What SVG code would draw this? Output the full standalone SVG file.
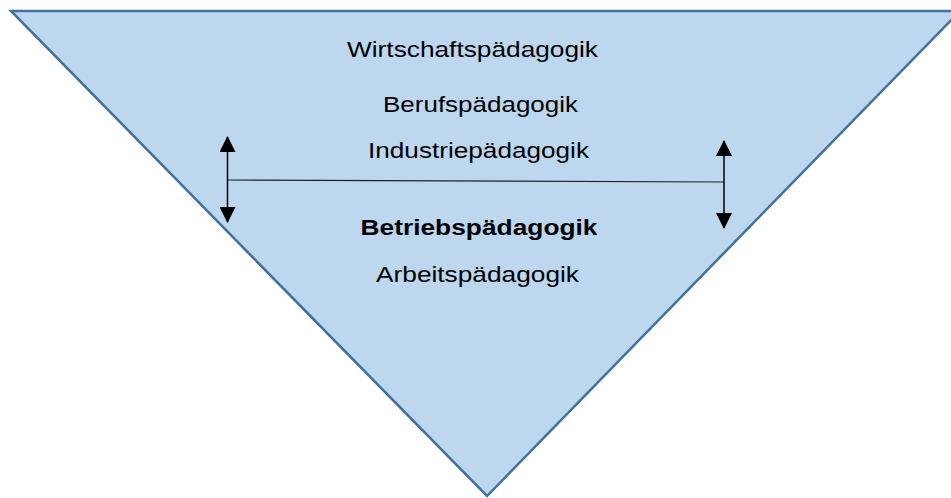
<svg xmlns="http://www.w3.org/2000/svg" width="951" height="498" viewBox="0 0 951 498">
  <style>
    .label { font-family: "Liberation Sans", Arial, sans-serif; font-size: 22px; fill: #000; text-anchor: middle; }
    .bold { font-weight: bold; }
    .range { stroke: #000; stroke-width: 1.5; fill: none; }
    .link { stroke: #222; stroke-width: 1.2; fill: none; }
  </style>
  <defs>
    <marker id="head" viewBox="0 0 10 10" refX="9" refY="5" markerWidth="10" markerHeight="10" markerUnits="userSpaceOnUse" orient="auto-start-reverse">
      <path d="M0,0 L10,5 L0,10 Z" fill="#000"/>
    </marker>
    <marker id="headL" viewBox="0 0 16 16" refX="15" refY="8" markerWidth="16" markerHeight="16" markerUnits="userSpaceOnUse" orient="auto-start-reverse">
      <path d="M0,0 L16,8 L0,16 Z" fill="#000"/>
    </marker>
  </defs>

  <!-- inverted triangle -->
  <g id="triangle">
    <polygon points="11,11 960,11 487,496" fill="#BDD7EE" stroke="#41719C" stroke-width="2.5" stroke-linejoin="miter"/>
  </g>

  <!-- labels -->
  <g id="wirtschaft"><text class="label" x="472.5" y="57" textLength="251" lengthAdjust="spacingAndGlyphs">Wirtschaftspädagogik</text></g>
  <g id="beruf"><text class="label" x="480.5" y="112" textLength="195" lengthAdjust="spacingAndGlyphs">Berufspädagogik</text></g>
  <g id="industrie"><text class="label" x="478.5" y="158" textLength="221" lengthAdjust="spacingAndGlyphs">Industriepädagogik</text></g>
  <g id="betrieb"><text class="label bold" x="479" y="235" textLength="237" lengthAdjust="spacingAndGlyphs">Betriebspädagogik</text></g>
  <g id="arbeit"><text class="label" x="477.5" y="282" textLength="203" lengthAdjust="spacingAndGlyphs">Arbeitspädagogik</text></g>

  <!-- range markers and connecting line -->
  <g id="connectors">
    <line class="link" x1="228" y1="180" x2="724" y2="182"/>
    <line class="range" x1="227.5" y1="137" x2="227.5" y2="222" marker-start="url(#headL)" marker-end="url(#headL)"/>
    <line class="range" x1="724" y1="141" x2="724" y2="228" marker-start="url(#headL)" marker-end="url(#headL)"/>
  </g>
</svg>
